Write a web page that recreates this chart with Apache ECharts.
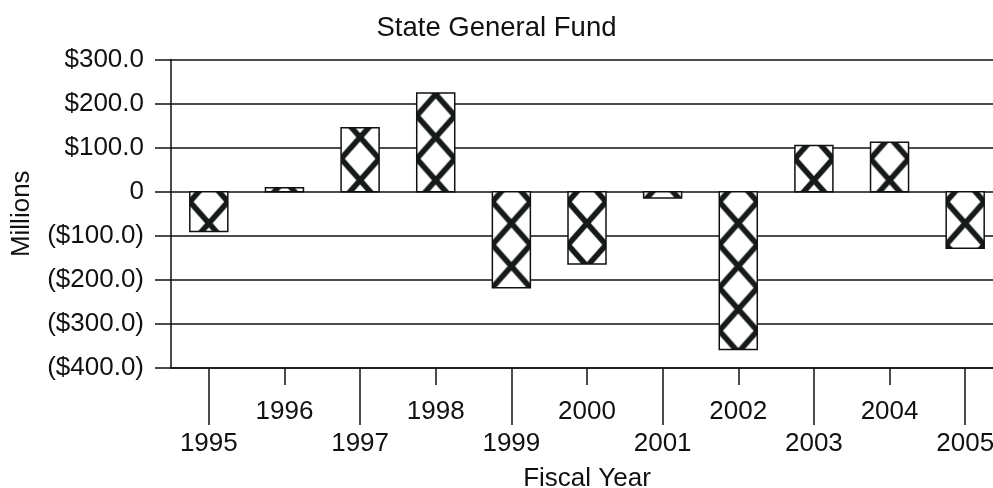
<!DOCTYPE html>
<html>
<head>
<meta charset="utf-8">
<title>State General Fund</title>
<script src="https://cdn.jsdelivr.net/npm/echarts@6/dist/echarts.min.js"></script>
<style>
  html, body { margin: 0; padding: 0; background: #fff; }
  #chart { width: 993px; height: 488px; }
</style>
</head>
<body>
<div id="chart"></div>
<script>
// Fiscal years and the general fund balance change for each (millions of dollars)
const years = ['1995', '1996', '1997', '1998', '1999', '2000', '2001', '2002', '2003', '2004', '2005'];
const fundChange = [-90, 9, 145, 224, -218, -164, -14, -358, 105, 112, -128];
// Value-axis ticks
const yTicks = [-400, -300, -200, -100, 0, 100, 200, 300];

const FONT = '"Liberation Sans", Arial, sans-serif';
const INK = '#111';
const BAR_W = 38;
const TILE_W = 38;
const TILE_H = 43;

// Cross-hatch tile: two diagonals, repeated so the lattice is seamless
function makeHatchTile() {
  const c = document.createElement('canvas');
  c.width = TILE_W;
  c.height = TILE_H;
  const g = c.getContext('2d');
  g.fillStyle = '#fff';
  g.fillRect(0, 0, TILE_W, TILE_H);
  g.strokeStyle = '#161a18';
  g.lineWidth = 5.5;
  g.lineCap = 'butt';
  for (let dx = -TILE_W; dx <= TILE_W; dx += TILE_W) {
    for (let dy = -TILE_H; dy <= TILE_H; dy += TILE_H) {
      g.beginPath();
      g.moveTo(dx, dy);
      g.lineTo(dx + TILE_W, dy + TILE_H);
      g.moveTo(dx + TILE_W, dy);
      g.lineTo(dx, dy + TILE_H);
      g.stroke();
    }
  }
  return c;
}
const hatchTile = makeHatchTile();

function moneyLabel(v) {
  if (v === 0) return '0';
  const s = '$' + Math.abs(v).toFixed(1);
  return v < 0 ? '(' + s + ')' : s;
}

function renderBar(params, api) {
  const idx = api.value(0);
  const v = api.value(1);
  const base = api.coord([idx, 0]);
  const end = api.coord([idx, v]);
  const x = base[0] - BAR_W / 2;
  const y = Math.min(base[1], end[1]);
  const h = Math.abs(base[1] - end[1]);
  return {
    type: 'rect',
    shape: { x: x, y: y, width: BAR_W, height: h },
    style: {
      fill: { image: hatchTile, repeat: 'repeat', x: x, y: base[1] + 10 },
      stroke: INK,
      lineWidth: 1.5
    }
  };
}

const gridBox = { left: 171, top: 59.5, width: 832, height: 308.5, containLabel: false, outerBoundsMode: 'none' };

const chart = echarts.init(document.getElementById('chart'), null, { renderer: 'canvas' });
chart.setOption({
  backgroundColor: '#fff',
  animation: false,
  textStyle: { fontFamily: FONT },
  title: {
    text: 'State General Fund',
    left: 'center',
    top: 9,
    textStyle: { fontFamily: FONT, fontSize: 27.5, fontWeight: 'normal', color: INK }
  },
  grid: [
    Object.assign({}, gridBox),
    Object.assign({}, gridBox)
  ],
  xAxis: [
    {
      type: 'category',
      gridIndex: 0,
      data: years,
      boundaryGap: true,
      axisLine: { show: true, onZero: false, lineStyle: { color: INK, width: 1.5 } },
      axisTick: {
        show: true, alignWithLabel: true, length: 57,
        interval: function (i) { return i % 2 === 0; },
        lineStyle: { color: INK, width: 1.5 }
      },
      axisLabel: {
        interval: function (i) { return i % 2 === 0; },
        margin: 63, fontSize: 26, color: INK, fontFamily: FONT
      },
      splitLine: { show: false },
      name: 'Fiscal Year',
      nameLocation: 'middle',
      nameGap: 98,
      nameTextStyle: { fontSize: 26, color: INK, fontFamily: FONT }
    },
    {
      type: 'category',
      gridIndex: 1,
      data: years,
      boundaryGap: true,
      axisLine: { show: false, onZero: false },
      axisTick: {
        show: true, alignWithLabel: true, length: 17,
        interval: function (i) { return i % 2 === 1; },
        lineStyle: { color: INK, width: 1.5 }
      },
      axisLabel: {
        interval: function (i) { return i % 2 === 1; },
        margin: 31, fontSize: 26, color: INK, fontFamily: FONT
      },
      splitLine: { show: false }
    }
  ],
  yAxis: [
    {
      type: 'value',
      gridIndex: 0,
      min: yTicks[0],
      max: yTicks[yTicks.length - 1],
      interval: 100,
      axisLine: { show: true, onZero: false, lineStyle: { color: INK, width: 1.5 } },
      axisTick: { show: true, length: 16, lineStyle: { color: INK, width: 1.5 } },
      axisLabel: { margin: 27, fontSize: 26, color: INK, fontFamily: FONT, formatter: moneyLabel },
      splitLine: { show: true, lineStyle: { color: INK, width: 1.5 } },
      name: 'Millions',
      nameLocation: 'middle',
      nameGap: 136,
      nameTextStyle: { fontSize: 26, color: INK, fontFamily: FONT }
    },
    {
      type: 'value',
      gridIndex: 1,
      min: yTicks[0],
      max: yTicks[yTicks.length - 1],
      interval: 100,
      show: false
    }
  ],
  series: [
    {
      type: 'custom',
      xAxisIndex: 0,
      yAxisIndex: 0,
      renderItem: renderBar,
      encode: { x: 0, y: 1 },
      data: fundChange.map(function (v, i) { return [i, v]; }),
      clip: false
    }
  ]
});
</script>
</body>
</html>
